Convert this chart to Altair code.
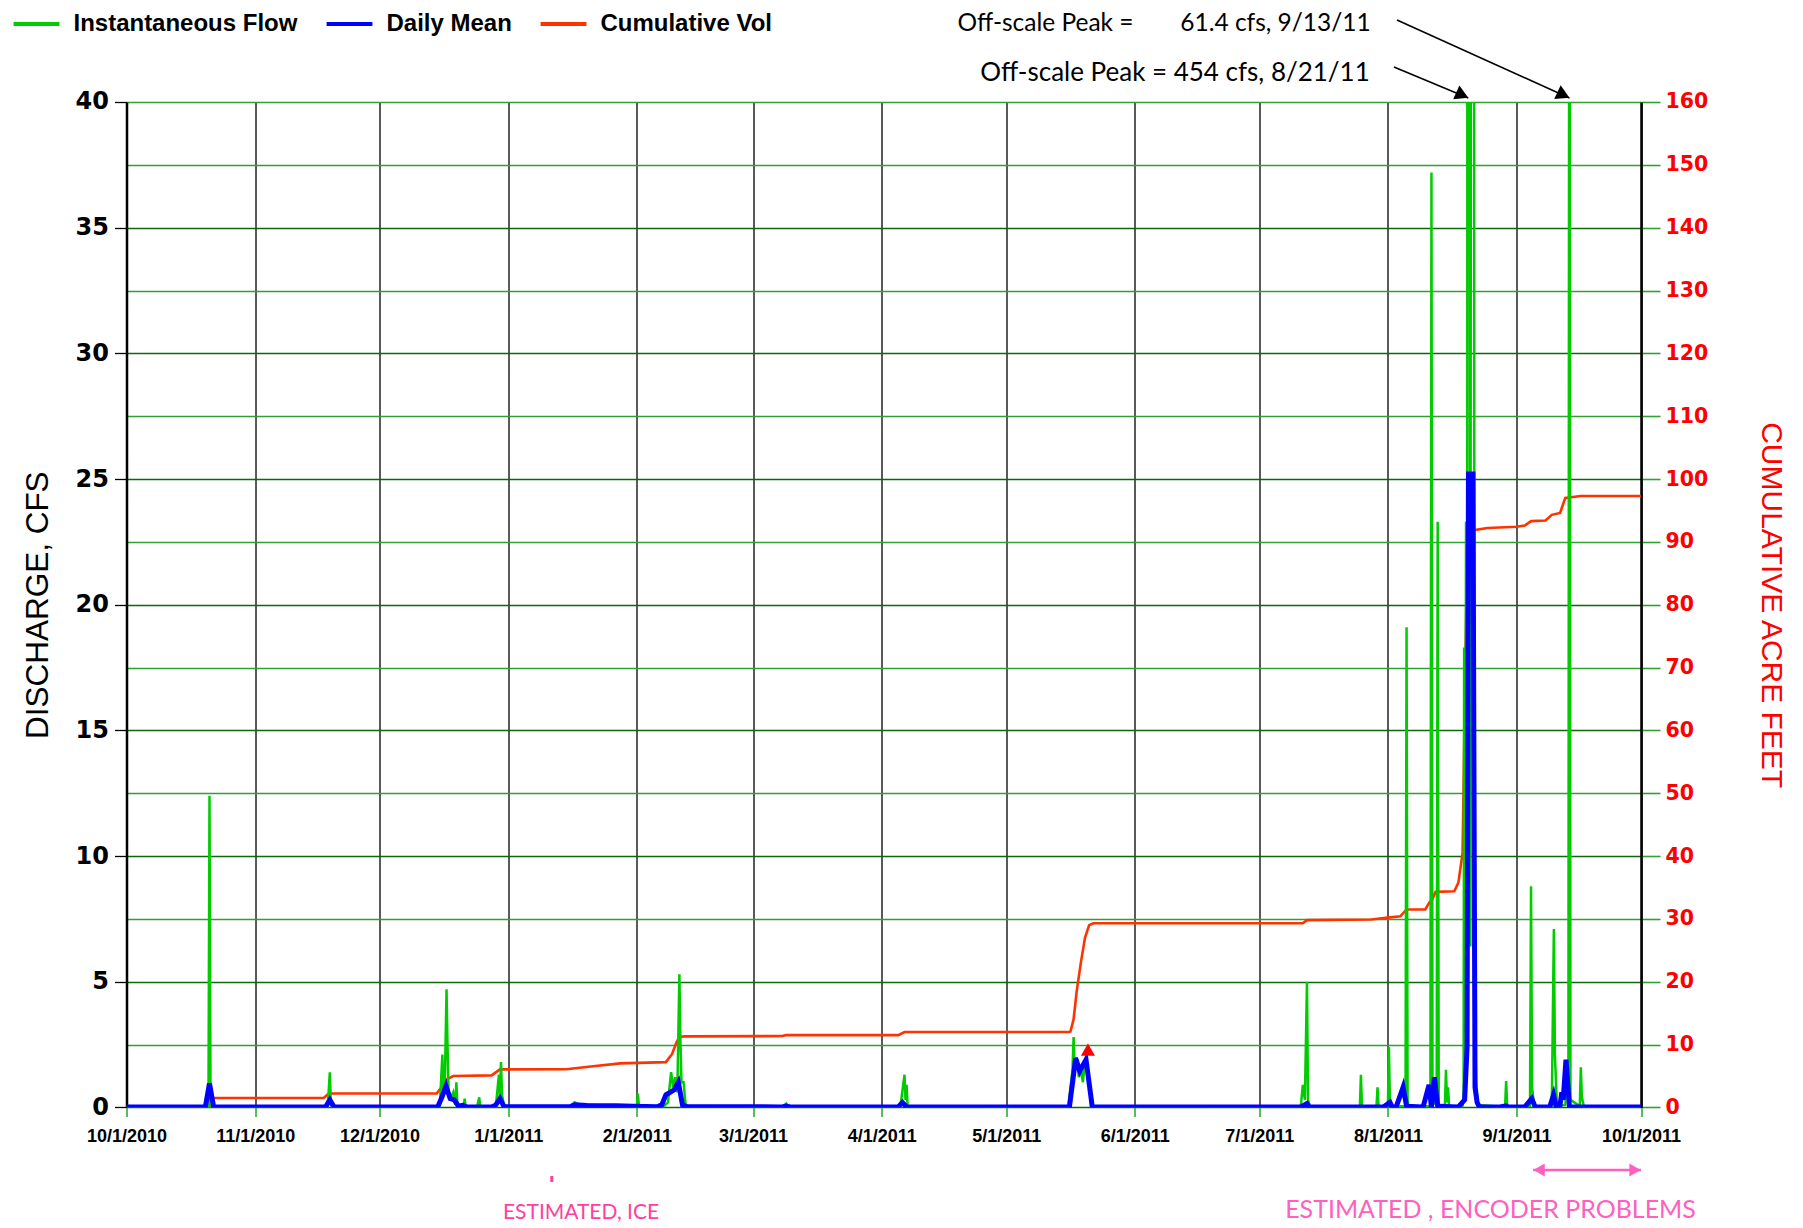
import altair as alt
import pandas as pd

ARIAL = "'Liberation Sans', Arial, sans-serif"
WIDE = "'DejaVu Sans', Verdana, sans-serif"
CAL = "Lato, 'Open Sans', sans-serif"

series_names = ["Instantaneous Flow", "Daily Mean", "Cumulative Vol"]
series_colors = ["#00CC00", "#0000FF", "#FF3300"]

# ---- Instantaneous flow (cfs) ----
inst_t = [
    "2010-10-01T00:00", "2010-10-20T18:00", "2010-10-21T00:00", "2010-10-21T06:00", "2010-10-21T12:00",
    "2010-11-18T12:00", "2010-11-19T00:00", "2010-11-19T06:00", "2010-11-19T12:00",
    "2010-12-15T12:00", "2010-12-16T03:00", "2010-12-16T09:00", "2010-12-16T18:00", "2010-12-17T03:00",
    "2010-12-17T09:00", "2010-12-17T15:00", "2010-12-18T06:00", "2010-12-18T18:00", "2010-12-19T06:00",
    "2010-12-19T12:00", "2010-12-19T18:00", "2010-12-21T06:00", "2010-12-21T12:00", "2010-12-21T18:00",
    "2010-12-24T12:00", "2010-12-25T00:00", "2010-12-25T06:00", "2010-12-29T00:00", "2010-12-29T18:00",
    "2010-12-30T00:00", "2010-12-30T06:00", "2010-12-30T12:00", "2010-12-31T00:00",
    "2011-01-16T00:00", "2011-01-17T00:00", "2011-01-18T00:00", "2011-01-25T00:00",
    "2011-02-01T00:00", "2011-02-01T06:00", "2011-02-01T12:00", "2011-02-07T12:00", "2011-02-08T12:00",
    "2011-02-09T06:00", "2011-02-09T18:00", "2011-02-10T06:00", "2011-02-10T18:00", "2011-02-11T06:00",
    "2011-02-11T12:00", "2011-02-11T18:00", "2011-02-12T06:00", "2011-02-12T18:00", "2011-02-13T12:00",
    "2011-03-08T00:00", "2011-03-09T00:00", "2011-03-09T12:00",
    "2011-04-05T12:00", "2011-04-06T12:00", "2011-04-06T18:00", "2011-04-07T00:00", "2011-04-07T06:00",
    "2011-05-16T00:00", "2011-05-17T00:00", "2011-05-17T06:00", "2011-05-17T12:00", "2011-05-18T00:00",
    "2011-05-18T12:00", "2011-05-19T00:00", "2011-05-19T12:00", "2011-05-20T00:00", "2011-05-20T12:00",
    "2011-05-21T00:00", "2011-05-21T12:00",
    "2011-07-11T00:00", "2011-07-11T12:00", "2011-07-12T00:00", "2011-07-12T12:00", "2011-07-12T18:00",
    "2011-07-13T06:00", "2011-07-25T06:00", "2011-07-25T12:00", "2011-07-25T18:00", "2011-07-29T06:00",
    "2011-07-29T12:00", "2011-07-29T18:00",
    "2011-08-01T00:00", "2011-08-01T06:00", "2011-08-01T12:00", "2011-08-05T06:00", "2011-08-05T12:00",
    "2011-08-05T18:00", "2011-08-06T00:00", "2011-08-11T06:00", "2011-08-11T12:00", "2011-08-11T18:00",
    "2011-08-12T18:00", "2011-08-13T00:00", "2011-08-13T06:00", "2011-08-14T18:00", "2011-08-15T00:00",
    "2011-08-15T06:00", "2011-08-15T12:00", "2011-08-15T18:00", "2011-08-19T00:00", "2011-08-19T06:00",
    "2011-08-19T09:00", "2011-08-19T14:00", "2011-08-19T20:00", "2011-08-20T03:00", "2011-08-20T09:00",
    "2011-08-20T15:00", "2011-08-20T21:00", "2011-08-21T09:00", "2011-08-21T15:00", "2011-08-21T21:00",
    "2011-08-22T06:00", "2011-08-22T18:00",
    "2011-08-29T06:00", "2011-08-29T12:00", "2011-08-29T18:00",
    "2011-09-04T06:00", "2011-09-04T12:00", "2011-09-04T18:00", "2011-09-05T06:00",
    "2011-09-09T12:00", "2011-09-10T00:00", "2011-09-10T06:00", "2011-09-10T18:00",
    "2011-09-12T18:00", "2011-09-13T06:00", "2011-09-13T12:00", "2011-09-13T18:00", "2011-09-14T00:00",
    "2011-09-16T06:00", "2011-09-16T12:00", "2011-09-16T18:00", "2011-09-17T06:00", "2011-10-01T00:00",
]
inst_v = [
    0.02, 0.02, 12.4, 0.3, 0.02,
    0.02, 1.4, 0.2, 0.02,
    0.02, 2.1, 0.5, 1.2, 4.7,
    2.4, 0.6, 0.4, 0.6, 0.1,
    1.0, 0.05, 0.05, 0.35, 0.02,
    0.02, 0.4, 0.02, 0.02, 1.3,
    0.3, 1.8, 0.5, 0.05,
    0.05, 0.2, 0.12, 0.08,
    0.05, 0.55, 0.05, 0.05, 0.2,
    1.4, 0.8, 1.2, 0.6, 5.3,
    2.6, 1.0, 1.0, 0.1, 0.05,
    0.02, 0.15, 0.02,
    0.02, 1.3, 0.3, 0.9, 0.05,
    0.02, 1.5, 2.8, 1.6, 2.0,
    1.2, 1.5, 1.0, 1.9, 1.5,
    1.0, 0.05,
    0.02, 0.9, 0.3, 5.0, 0.3,
    0.05, 0.02, 1.3, 0.02, 0.02,
    0.8, 0.02,
    0.02, 2.4, 0.05, 0.05, 19.1,
    0.3, 0.05, 0.05, 37.2, 0.2,
    0.1, 23.3, 0.1, 0.1, 1.5,
    0.2, 0.8, 0.05, 0.05, 0.5,
    18.3, 3.0, 23.3, 8.0, 454.0,
    60.0, 6.4, 150.0, 120.0, 5.0,
    1.0, 0.1,
    0.02, 1.05, 0.02,
    0.05, 8.8, 0.8, 0.05,
    0.05, 7.1, 2.1, 0.05,
    0.1, 1.3, 0.2, 61.4, 0.3,
    0.05, 1.6, 0.4, 0.02, 0.02,
]

# ---- Daily mean (cfs) ----
daily_t = [
    "2010-10-01", "2010-10-20", "2010-10-21", "2010-10-22", "2010-11-18", "2010-11-19", "2010-11-20",
    "2010-12-15", "2010-12-16", "2010-12-17", "2010-12-18", "2010-12-19", "2010-12-20", "2010-12-21",
    "2010-12-22", "2010-12-28", "2010-12-29", "2010-12-30", "2010-12-31",
    "2011-01-16", "2011-01-17", "2011-01-20", "2011-01-27", "2011-01-31",
    "2011-02-06", "2011-02-07", "2011-02-08", "2011-02-09", "2011-02-10", "2011-02-11", "2011-02-12",
    "2011-02-13", "2011-03-08", "2011-03-09", "2011-03-10", "2011-04-05", "2011-04-06", "2011-04-07",
    "2011-05-16T06:00", "2011-05-17T18:00", "2011-05-18T18:00", "2011-05-20T06:00", "2011-05-21T18:00",
    "2011-07-11", "2011-07-12T12:00", "2011-07-13", "2011-07-31", "2011-08-01T12:00", "2011-08-02",
    "2011-08-03", "2011-08-04T16:00", "2011-08-05T12:00", "2011-08-09T12:00", "2011-08-10T22:00",
    "2011-08-11T12:00", "2011-08-12T05:00", "2011-08-13", "2011-08-18", "2011-08-19T12:00",
    "2011-08-20T02:00", "2011-08-20T10:00", "2011-08-21T12:00", "2011-08-22", "2011-08-22T12:00",
    "2011-08-23", "2011-08-28", "2011-08-29T12:00", "2011-08-30", "2011-09-03", "2011-09-04T16:00",
    "2011-09-05T12:00", "2011-09-09", "2011-09-09T22:00", "2011-09-10T12:00", "2011-09-11T12:00",
    "2011-09-11T22:00", "2011-09-12T06:00", "2011-09-12T22:00", "2011-09-13T18:00", "2011-09-14",
    "2011-10-01",
]
daily_v = [
    0.02, 0.02, 0.95, 0.02, 0.02, 0.3, 0.02,
    0.02, 0.4, 0.85, 0.35, 0.3, 0.05, 0.08,
    0.02, 0.02, 0.1, 0.35, 0.03,
    0.03, 0.1, 0.08, 0.07, 0.05,
    0.03, 0.1, 0.5, 0.6, 0.7, 1.0, 0.1,
    0.03, 0.02, 0.05, 0.02, 0.02, 0.2, 0.02,
    0.02, 1.95, 1.45, 1.9, 0.02,
    0.02, 0.15, 0.02, 0.02, 0.2, 0.02,
    0.02, 0.8, 0.05, 0.02, 0.9,
    0.0, 1.2, 0.05, 0.02, 0.3,
    2.4, 25.2, 25.2, 0.8, 0.2,
    0.03, 0.02, 0.06, 0.02, 0.02, 0.35,
    0.02, 0.02, 0.5, 0.05, 0.1,
    0.6, 0.3, 1.9, 0.05, 0.02,
    0.02,
]

# ---- Cumulative volume (acre-feet) ----
cum_t = [
    "2010-10-01", "2010-10-21T00:00", "2010-10-21T18:00", "2010-11-17T12:00", "2010-11-18T18:00",
    "2010-12-14T18:00", "2010-12-16T00:00", "2010-12-17T00:00", "2010-12-18T18:00", "2010-12-28T00:00",
    "2010-12-30T00:00", "2011-01-15T00:00", "2011-01-22T00:00", "2011-01-28T00:00", "2011-02-08T00:00",
    "2011-02-09T12:00", "2011-02-10T12:00", "2011-02-11T06:00", "2011-02-12T12:00", "2011-03-08T00:00",
    "2011-03-09T00:00", "2011-04-05T00:00", "2011-04-06T12:00", "2011-05-16T00:00", "2011-05-16T12:00",
    "2011-05-17T06:00", "2011-05-18T00:00", "2011-05-19T00:00", "2011-05-20T00:00", "2011-05-21T00:00",
    "2011-05-22T00:00", "2011-07-11T12:00", "2011-07-12T12:00", "2011-07-28T00:00", "2011-08-01T00:00",
    "2011-08-04T00:00", "2011-08-05T12:00", "2011-08-10T00:00", "2011-08-11T00:00", "2011-08-11T12:00",
    "2011-08-12T12:00", "2011-08-17T00:00", "2011-08-18T00:00", "2011-08-19T00:00", "2011-08-20T04:00",
    "2011-08-25T00:00", "2011-09-01T00:00", "2011-09-03T00:00", "2011-09-04T12:00", "2011-09-08T00:00",
    "2011-09-09T12:00", "2011-09-11T12:00", "2011-09-12T18:00", "2011-09-16T12:00", "2011-10-01T00:00",
]
cum_v = [
    0.0, 0.0, 1.5, 1.5, 2.2,
    2.2, 3.3, 4.4, 5.0, 5.1,
    6.05, 6.06, 6.6, 7.0, 7.2,
    8.5, 10.3, 11.2, 11.3, 11.35,
    11.5, 11.5, 12.0, 12.0, 12.1,
    14.0, 18.5, 23.0, 27.0, 29.0,
    29.3, 29.3, 29.8, 29.9, 30.2,
    30.4, 31.5, 31.5, 32.6, 32.8,
    34.3, 34.4, 35.8, 40.5, 91.7,
    92.2, 92.4, 92.6, 93.3, 93.4,
    94.3, 94.6, 97.0, 97.3, 97.3,
]

peak_marker_t = ["2011-05-20T17:00"]
peak_marker_v = [2.3]

offscale_t = ["2011-08-20T09:00", "2011-09-13T18:00"]
offscale_lbl_a = "Off-scale Peak ="
offscale_lbl_b = "61.4 cfs, 9/13/11"
offscale_lbl_c = "Off-scale Peak = 454 cfs, 8/21/11"

est_ice_t = ["2011-01-11T12:00"]
est_enc_t = ["2011-09-05T00:00", "2011-10-01T00:00"]

month_ticks = [(2010, 10), (2010, 11), (2010, 12), (2011, 1), (2011, 2), (2011, 3), (2011, 4),
               (2011, 5), (2011, 6), (2011, 7), (2011, 8), (2011, 9), (2011, 10)]
cfs_ticks = [0, 5, 10, 15, 20, 25, 30, 35, 40]
af_ticks = [0, 10, 20, 30, 40, 50, 60, 70, 80, 90, 100, 110, 120, 130, 140, 150, 160]

# ---- frames ----
df_inst = pd.DataFrame({"t": inst_t, "v": inst_v, "series": series_names[0]})
df_daily = pd.DataFrame({"t": daily_t, "v": daily_v, "series": series_names[1]})
df_cum = pd.DataFrame({"t": cum_t, "v": cum_v, "series": series_names[2]})
df_peak = pd.DataFrame({"t": peak_marker_t, "v": peak_marker_v})
df_off1 = pd.DataFrame({"t": [offscale_t[0]]})
df_off2 = pd.DataFrame({"t": [offscale_t[1]]})
df_ice = pd.DataFrame({"t": est_ice_t})
df_enc = pd.DataFrame({"t": [est_enc_t[0]], "t2": [est_enc_t[1]]})
df_enc_l = pd.DataFrame({"t": [est_enc_t[0]]})
df_enc_r = pd.DataFrame({"t": [est_enc_t[1]]})

W = 1514.5
H = 1005.4

month_vals = [alt.DateTime(year=y, month=m, date=1) for y, m in month_ticks]
x_axis = alt.Axis(
    values=month_vals, format="%-m/%-d/%Y", formatType="time",
    labelFont=ARIAL, labelFontSize=18, labelFontWeight="bold", labelColor="black",
    labelPadding=11, labelFlush=False, labelOverlap=False,
    grid=True, gridColor="black", gridWidth=1.3,
    ticks=True, tickColor="#22AA22", tickSize=9, tickWidth=1.5,
    domain=False, title=None,
)
x_scale = alt.Scale(domain=[month_vals[0], month_vals[-1]])


def X():
    return alt.X("t:T", scale=x_scale, axis=x_axis, title=None)


cfs_scale = alt.Scale(domain=[0, 40], nice=False, zero=True)
af_scale = alt.Scale(domain=[0, 160], nice=False, zero=True)

left_axis = alt.Axis(
    orient="left", values=cfs_ticks, grid=False,
    tickColor="black", tickSize=12, tickWidth=1.3,
    labelFont=WIDE, labelFontSize=24, labelFontWeight="bold", labelColor="black", labelPadding=6,
    domain=True, domainColor="black", domainWidth=2.5,
    title="DISCHARGE, CFS", titleFont=ARIAL, titleFontSize=31.5, titleFontWeight="normal",
    titleColor="black", titleX=-88, titleY=H / 2, titleAngle=-90, titleBaseline="middle",
)
right_axis = alt.Axis(
    orient="right", values=af_ticks, grid=True,
    gridColor=alt.condition("datum.value % 20 === 0 && datum.value < 160",
                            alt.value("#0A6A0A"), alt.value("#30A030")),
    gridWidth=1.6,
    tickColor="#30A030", tickSize=19, tickWidth=1.6,
    labelFont=WIDE, labelFontSize=20.5, labelFontWeight="bold", labelColor="#FF0000", labelPadding=5,
    domain=True, domainColor="black", domainWidth=2.5,
    title="CUMULATIVE ACRE FEET", titleFont=ARIAL, titleFontSize=30, titleFontWeight="normal",
    titleColor="#FF0000", titleX=130, titleY=H / 2, titleAngle=90, titleBaseline="middle",
)

color_enc = alt.Color(
    "series:N",
    scale=alt.Scale(domain=series_names, range=series_colors),
    legend=alt.Legend(
        orient="none", legendX=-115, legendY=-103, direction="horizontal", title=None,
        symbolType="stroke", symbolSize=2100, symbolStrokeWidth=4,
        labelFont=ARIAL, labelFontSize=24, labelFontWeight="bold", labelColor="black",
        labelOffset=12, columnPadding=20, labelLimit=0, symbolOpacity=1,
    ),
)

red = alt.Chart(df_cum).mark_line(clip=True, strokeWidth=2.6).encode(
    x=X(), y=alt.Y("v:Q", scale=af_scale, axis=right_axis), color=color_enc)
green = alt.Chart(df_inst).mark_line(clip=True, strokeWidth=2.5).encode(
    x=X(), y=alt.Y("v:Q", scale=cfs_scale, axis=left_axis), color=color_enc)
blue = alt.Chart(df_daily).mark_line(clip=True, strokeWidth=5).encode(
    x=X(), y=alt.Y("v:Q", scale=cfs_scale, axis=None), color=color_enc)

tri = alt.Chart(df_peak).mark_point(shape="triangle-up", filled=True, size=200, color="#FF0000",
                                    opacity=1).encode(
    x=X(), y=alt.Y("v:Q", scale=cfs_scale, axis=None))

# off-scale annotations
arrow1 = alt.Chart(df_off1).mark_rule(color="black", strokeWidth=1.6).encode(
    x=X(), y=alt.value(-4), x2=alt.value(1267.5), y2=alt.value(-35))
head1 = alt.Chart(df_off1).mark_point(shape="triangle-up", filled=True, size=230, color="black",
                                      opacity=1, angle=114, xOffset=-6, yOffset=-3).encode(
    x=X(), y=alt.value(-4))
arrow2 = alt.Chart(df_off2).mark_rule(color="black", strokeWidth=1.6).encode(
    x=X(), y=alt.value(-4), x2=alt.value(1270.5), y2=alt.value(-82))
head2 = alt.Chart(df_off2).mark_point(shape="triangle-up", filled=True, size=230, color="black",
                                      opacity=1, angle=115, xOffset=-6, yOffset=-3).encode(
    x=X(), y=alt.value(-4))

txt_base = dict(font=CAL, color="black", baseline="middle")
t1a = alt.Chart(pd.DataFrame({"s": [offscale_lbl_a]})).mark_text(
    align="center", fontSize=24.5, **txt_base).encode(x=alt.value(919), y=alt.value(-78), text="s:N")
t1b = alt.Chart(pd.DataFrame({"s": [offscale_lbl_b]})).mark_text(
    align="center", fontSize=24.5, **txt_base).encode(x=alt.value(1149), y=alt.value(-78), text="s:N")
t2 = alt.Chart(pd.DataFrame({"s": [offscale_lbl_c]})).mark_text(
    align="center", fontSize=26, **txt_base).encode(x=alt.value(1048.5), y=alt.value(-29), text="s:N")

# estimated periods
PINK = "#FF5FBF"
ICE_PINK = "#FF3FA0"
ice_dot = alt.Chart(df_ice).mark_rule(color=ICE_PINK, strokeWidth=3).encode(
    x=X(), y=alt.value(1074), y2=alt.value(1080))
ice_txt = alt.Chart(pd.DataFrame({"s": ["ESTIMATED, ICE"]})).mark_text(
    font=CAL, fontSize=21, color=ICE_PINK, align="center", baseline="middle").encode(
    x=alt.value(454.5), y=alt.value(1111), text="s:N")
enc_rule = alt.Chart(df_enc).mark_rule(color=PINK, strokeWidth=2.5).encode(
    x=X(), x2="t2:T", y=alt.value(1068))
enc_l = alt.Chart(df_enc_l).mark_point(shape="triangle-left", filled=True, size=170, color=PINK,
                                       opacity=1, xOffset=6).encode(x=X(), y=alt.value(1068))
enc_r = alt.Chart(df_enc_r).mark_point(shape="triangle-right", filled=True, size=170, color=PINK,
                                       opacity=1, xOffset=-6).encode(x=X(), y=alt.value(1068))
enc_txt = alt.Chart(pd.DataFrame({"s": ["ESTIMATED , ENCODER PROBLEMS"]})).mark_text(
    font=CAL, fontSize=25, color=PINK, align="center", baseline="middle").encode(
    x=alt.value(1364), y=alt.value(1108), text="s:N")

chart = alt.layer(
    red, green, blue, tri,
    arrow1, head1, arrow2, head2, t1a, t1b, t2,
    ice_dot, ice_txt, enc_rule, enc_l, enc_r, enc_txt,
).resolve_scale(y="independent").properties(
    width=W, height=H,
    autosize=alt.AutoSizeParams(type="none"),
    padding={"left": 118.5, "top": 94, "right": 152, "bottom": 120},
    background="white",
).configure_view(stroke=None)

chart.save("out.html", embed_options={"renderer": "svg", "actions": False})
